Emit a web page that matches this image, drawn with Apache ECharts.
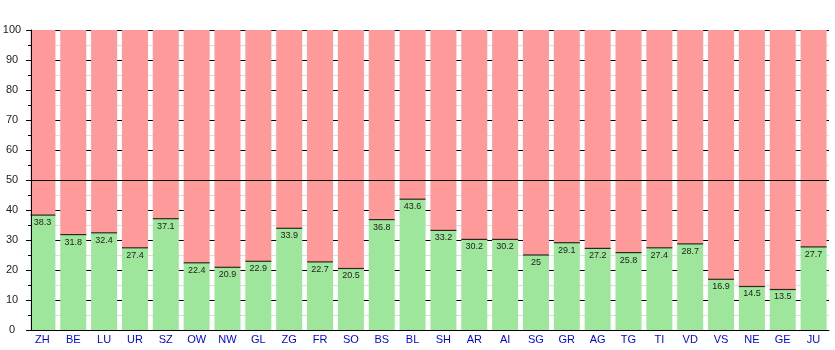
<!DOCTYPE html>
<html><head><meta charset="utf-8">
<script src="https://cdn.jsdelivr.net/npm/echarts@6/dist/echarts.min.js"></script>
<style>html,body{margin:0;padding:0;background:#fff}#c{width:835px;height:350px}</style>
</head><body><div id="c"></div>
<script>
const categories = ['ZH','BE','LU','UR','SZ','OW','NW','GL','ZG','FR','SO','BS','BL','SH','AR','AI','SG','GR','AG','TG','TI','VD','VS','NE','GE','JU'];
const yesValues = [38.3,31.8,32.4,27.4,37.1,22.4,20.9,22.9,33.9,22.7,20.5,36.8,43.6,33.2,30.2,30.2,25,29.1,27.2,25.8,27.4,28.7,16.9,14.5,13.5,27.7];
const noValues = [61.7,68.2,67.6,72.6,62.9,77.6,79.1,77.1,66.1,77.3,79.5,63.2,56.4,66.8,69.8,69.8,75,70.9,72.8,74.2,72.6,71.3,83.1,85.5,86.5,72.3];
const yTicks = {min:0, max:100, interval:10};
const majorityLine = 50;

const font = 'Liberation Sans, Arial, sans-serif';
const chart = echarts.init(document.getElementById('c'), null, {renderer:'canvas'});
chart.setOption({
  animation:false,
  grid:{left:27, right:6, top:30, bottom:20, containLabel:false, outerBoundsMode:'none'},
  xAxis:{type:'category', data:categories, z:4,
    axisLine:{lineStyle:{color:'#000', width:1}},
    axisTick:{show:false},
    axisLabel:{color:'#0000ee', fontSize:11, fontFamily:font, margin:4}},
  yAxis:[
    {type:'value', min:yTicks.min, max:yTicks.max, interval:yTicks.interval, offset:-4, z:10,
     axisLine:{show:true, lineStyle:{color:'#000'}},
     axisTick:{show:true, length:5, lineStyle:{color:'#000'}},
     minorTick:{show:true, splitNumber:2, length:3, lineStyle:{color:'#000'}},
     axisLabel:{color:'#222', fontSize:11, fontFamily:font, margin:19, align:'center'},
     splitLine:{show:false}},
    {type:'value', min:yTicks.min, max:yTicks.max, interval:yTicks.interval, z:0,
     axisLine:{show:false}, axisTick:{show:false}, axisLabel:{show:false},
     splitLine:{show:true, lineStyle:{color:'#000', width:1}},
     minorSplitLine:{show:true, lineStyle:{color:'#dddddd', width:1}},
     minorTick:{show:false, splitNumber:2}}
  ],
  graphic:[{type:'rect', z:5, shape:{x:0, y:0, width:30.5, height:335}, style:{fill:'#fff'}}],
  series:[
    {type:'bar', stack:'s', data:yesValues, barWidth:26, z:2,
     itemStyle:{color:'#9ee69b'},
     label:{show:true, position:'insideTop', distance:3, fontSize:9, color:'#222', fontFamily:font},
     markLine:{silent:true, symbol:'none', label:{show:false}, z:3,
       lineStyle:{color:'#000', width:1, type:'solid'}, data:[{yAxis:majorityLine}]}},
    {type:'bar', stack:'s', data:noValues, barWidth:26, z:2,
     itemStyle:{color:'#ff9a9a'}},
    {type:'scatter', data:yesValues, symbol:'rect', symbolSize:[26,1.2], z:3,
     itemStyle:{color:'#000'}}
  ]
});
</script></body></html>
